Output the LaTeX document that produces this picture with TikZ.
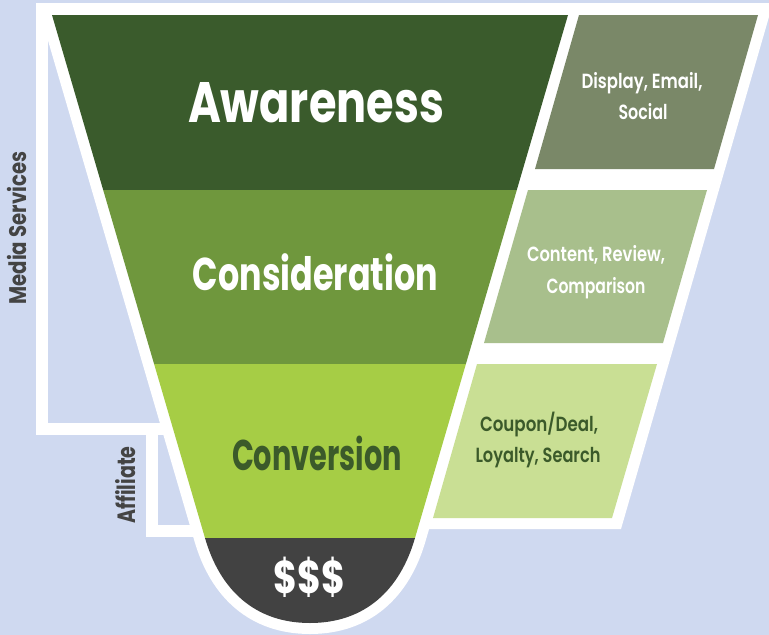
\documentclass[tikz,border=0pt]{standalone}
\usepackage{fontspec}
\setmainfont{Poppins}
\newfontfamily\medfont{Poppins}[UprightFont=* SemiBold]
\usepackage{graphicx}
\usepackage{tikz}

\definecolor{bgblue}{HTML}{CFD9F0}
\definecolor{aware}{HTML}{3A5B2C}
\definecolor{consider}{HTML}{6F973D}
\definecolor{convert}{HTML}{A6CD45}
\definecolor{money}{HTML}{424242}
\definecolor{boxa}{HTML}{7A8868}
\definecolor{boxb}{HTML}{A8BF8C}
\definecolor{boxc}{HTML}{C9DF94}
\definecolor{darkgreen}{HTML}{3B5A2A}
\definecolor{sidegray}{HTML}{444444}

\newcommand{\fitw}[2]{\resizebox{#1}{\height}{#2}}

\tikzset{
  stage/.style={anchor=base, inner sep=0pt, text=white, font=\bfseries},
  channel/.style={anchor=base, inner sep=0pt, text=white, font=\medfont\fontsize{20.5}{24}\selectfont},
  side/.style={rotate=90, inner sep=0pt, text=sidegray, font=\bfseries}
}

\begin{document}
\begin{tikzpicture}[x=1pt,y=-1pt]
\useasboundingbox (0,0) rectangle (769,635);
\fill[bgblue] (0,0) rectangle (769,635);
% white frame and brackets
\fill[white] (36,3) -- (773,3) -- (621,529) -- (300,529) -- (300,15) -- (36,15) -- cycle;
\fill[white] (36,3) rectangle (48,435);
\fill[white] (36,423) rectangle (175,435);
\fill[white] (146,423) rectangle (158,537);
\fill[white] (146,525) rectangle (210,537);
% funnel
\def\funnel{(52,15) -- (568,15) -- (415,538) .. controls (400,590) and (365,623) .. (310,623) .. controls (255,623) and (220,590) .. (205,538) -- cycle}
\draw[white, line width=22pt] \funnel;
\begin{scope}
	\clip \funnel;
	\fill[aware] (0,0) rectangle (769,190);
	\fill[consider] (0,190) rectangle (769,364);
	\fill[convert] (0,364) rectangle (769,538);
	\fill[money] (0,538) rectangle (769,640);
\end{scope}
% channel boxes
\fill[boxa] (579,15) -- (758,15) -- (714,169) -- (535,169) -- cycle;
\fill[boxb] (528,190) -- (707,190) -- (663,343) -- (484,343) -- cycle;
\fill[boxc] (477,364) -- (657,364) -- (612,518) -- (433,518) -- cycle;
% stage labels
\node[stage, font=\bfseries\fontsize{57}{60}\selectfont] (awareness) at (316,122) {\fitw{256pt}{Awareness}};
\node[stage, font=\bfseries\fontsize{46}{50}\selectfont] (consideration) at (315.5,290) {\fitw{245pt}{Consideration}};
\node[stage, text=darkgreen, font=\bfseries\fontsize{43}{46}\selectfont] (conversion) at (317,470) {\fitw{170pt}{Conversion}};
\node[stage, anchor=center, font=\bfseries\fontsize{46}{48}\selectfont] (dollars) at (309,577) {\fitw{72pt}{\$\$\$}};
% channel labels
\node[channel] (display) at (642,88) {\fitw{121pt}{Display, Email,}};
\node[channel] (social) at (643,119) {\fitw{49pt}{Social}};
\node[channel] (content) at (596,261) {\fitw{138pt}{Content, Review,}};
\node[channel] (comparison) at (596,293) {\fitw{99pt}{Comparison}};
\node[channel, text=darkgreen] (coupon) at (539,431) {\fitw{118pt}{Coupon/Deal,}};
\node[channel, text=darkgreen] (loyalty) at (538,462) {\fitw{125pt}{Loyalty, Search}};
% bracket labels
\node[side, font=\bfseries\fontsize{24}{26}\selectfont] (media) at (17,228) {\fitw{153pt}{Media Services}};
\node[side, font=\bfseries\fontsize{25}{27}\selectfont] (affiliate) at (126,485) {\fitw{77pt}{Affiliate}};
\end{tikzpicture}
\end{document}
